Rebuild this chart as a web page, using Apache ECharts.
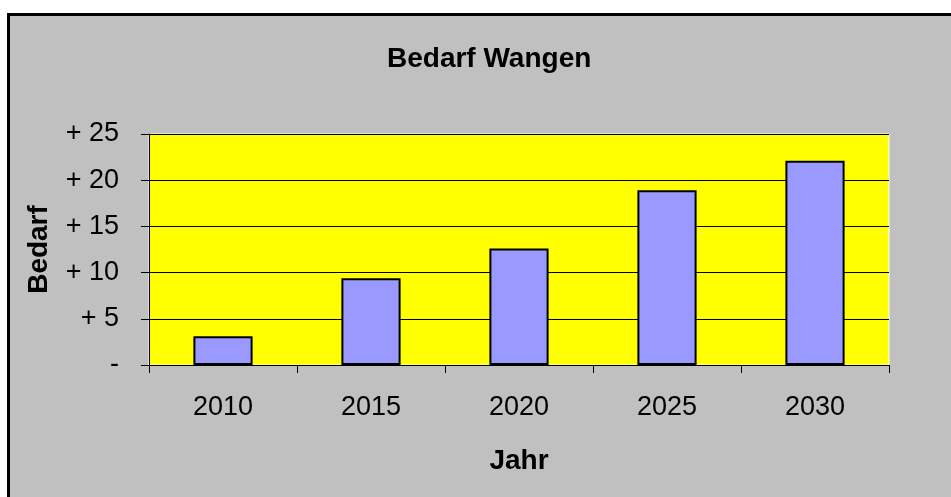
<!DOCTYPE html>
<html>
<head>
<meta charset="utf-8">
<script src="https://cdn.jsdelivr.net/npm/echarts@6/dist/echarts.min.js"></script>
<style>
  html, body { margin: 0; padding: 0; background: #ffffff; }
  #chart { width: 951px; height: 497px; }
</style>
</head>
<body>
<div id="chart"></div>
<script>
// Jahr categories and Bedarf values
const years = ['2010', '2015', '2020', '2025', '2030'];
const bedarf = [3.1, 9.4, 12.6, 18.9, 22.1];
const yTicks = [0, 5, 10, 15, 20, 25];

const FONT = '"Liberation Sans", Arial, sans-serif';

const chart = echarts.init(document.getElementById('chart'), null, { renderer: 'canvas' });

chart.setOption({
  backgroundColor: '#ffffff',
  animation: false,
  graphic: [{
    type: 'rect',
    z: -100,
    shape: { x: 8.5, y: 14.5, width: 1200, height: 1200 },
    style: { fill: '#c0c0c0', stroke: '#000000', lineWidth: 3 }
  }],
  title: {
    text: 'Bedarf Wangen',
    left: 382,
    top: 40,
    textStyle: { fontFamily: FONT, fontWeight: 'bold', fontSize: 28, color: '#000000' }
  },
  grid: {
    left: 149, right: 62, top: 134, bottom: 132,
    show: true,
    backgroundColor: '#ffff00',
    borderColor: '#ffffff',
    borderWidth: 1
  },
  xAxis: {
    type: 'category',
    data: years,
    boundaryGap: true,
    name: 'Jahr',
    nameLocation: 'middle',
    nameGap: 82,
    nameTextStyle: { fontFamily: FONT, fontWeight: 'bold', fontSize: 28, color: '#000000' },
    axisLine: { show: true, lineStyle: { color: '#000000', width: 1 } },
    axisTick: { show: true, inside: false, length: 8, alignWithLabel: false, lineStyle: { color: '#000000' } },
    axisLabel: { margin: 29, fontFamily: FONT, fontSize: 27, color: '#000000' },
    splitLine: { show: false }
  },
  yAxis: {
    type: 'value',
    min: yTicks[0],
    max: yTicks[yTicks.length - 1],
    interval: 5,
    name: 'Bedarf',
    nameLocation: 'middle',
    nameRotate: 90,
    nameGap: 96,
    nameTextStyle: { fontFamily: FONT, fontWeight: 'bold', fontSize: 28, color: '#000000' },
    axisLine: { show: true, lineStyle: { color: '#000000', width: 1 } },
    axisTick: { show: true, inside: false, length: 8, lineStyle: { color: '#000000' } },
    axisLabel: {
      margin: 30,
      fontFamily: FONT, fontSize: 27, color: '#000000',
      formatter: v => (v === 0 ? '-' : '+ ' + v)
    },
    splitLine: { show: true, lineStyle: { color: '#000000', width: 1 } }
  },
  series: [{
    type: 'bar',
    data: bedarf,
    barWidth: '40%',
    itemStyle: { color: '#9999ff', borderColor: '#000000', borderWidth: 2 }
  }]
});
</script>
</body>
</html>
